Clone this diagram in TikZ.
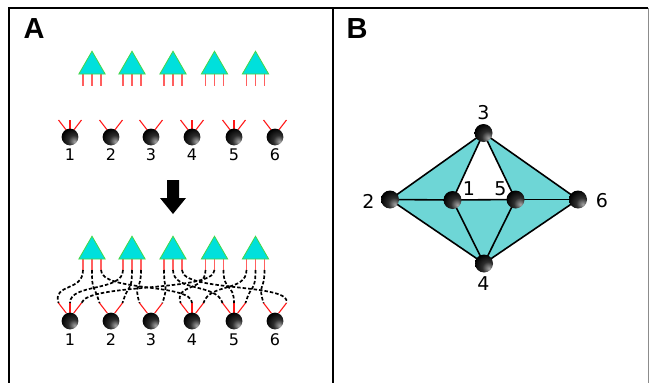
\documentclass[tikz,border=0pt]{standalone}
\usepackage{fontspec}
\setmainfont{DejaVu Sans}
\newfontfamily\labfont{Liberation Sans}
\usetikzlibrary{shapes.geometric}
\definecolor{tricyan}{RGB}{0,224,220}
\definecolor{triedge}{RGB}{70,215,70}
\definecolor{legred}{RGB}{255,95,95}
\definecolor{facecol}{RGB}{110,214,214}
\pgfdeclareradialshading{ballshade}{\pgfpoint{14bp}{-14bp}}{color(0bp)=(black!35); color(16bp)=(black!82); color(34bp)=(black); color(70bp)=(black)}
\begin{document}
\begin{tikzpicture}[x=1pt,y=-1pt,
  ball/.style={circle,minimum size=16.8pt,inner sep=0pt,shading=ballshade},
  bigball/.style={circle,minimum size=18pt,inner sep=0pt,shading=ballshade},
  tri/.style={regular polygon,regular polygon sides=3,minimum size=30.4pt,inner sep=0pt,fill=tricyan,draw=triedge,line width=0.8pt},
  leg/.style={draw=legred,line width=1.5pt},
  rec/.style={draw=red!90!white,line width=1.1pt},
  dashcurve/.style={draw=black,line width=1.7pt,dash pattern=on 3.5pt off 2pt},
  numlab/.style={font=\fontsize{16}{18}\selectfont,inner sep=0pt},
  bnumlab/.style={font=\fontsize{19}{21}\selectfont,inner sep=0pt},
  panellab/.style={font=\labfont\bfseries\fontsize{29}{30}\selectfont,inner sep=0pt},
  edge/.style={draw=black,line width=1.6pt},
  frame/.style={draw=black,line width=1.2pt}]
\useasboundingbox (0,0) rectangle (649,383);
% frame
\draw[frame] (9,384) -- (9,8) -- (648,8);
\draw[draw=black!45,line width=1pt] (648.5,8) -- (648.5,384);
\draw[frame] (333,8) -- (333,384);
\node[panellab] (labA) at (34,29) {A};
\node[panellab] (labB) at (357,28.5) {B};

% ---------- Panel A, top ----------
\foreach \t/\x in {1/92,2/132,3/173,4/214.5,5/255.5} {
  \foreach \k in {1,2,3} { \draw[leg] ({\x+(\k-2)*9},74) -- ({\x+(\k-2)*9},86); }
  \node[tri] (ut\t) at (\x,66.4) {};
}
\foreach \i/\x/\recs in {1/70/{1,2,3},2/111/{1,3},3/151/{1,3},4/192/{1,2,3},5/234/{1,2,3},6/275/{1,3}} {
  \foreach \k in \recs { \draw[rec] ({\x+(\k-2)*11.5},120) -- ({\x+(\k-2)*3.8},130); }
  \node[ball] (ub\i) at (\x,137) {};
  \node[numlab] (ul\i) at (\x,155) {\i};
}

% arrow
\fill[black] (167,180) -- (179,180) -- (179,198) -- (186,198) -- (173,214) -- (160,198) -- (167,198) -- cycle;

% ---------- Panel A, bottom ----------
\foreach \t/\x in {1/92,2/132,3/173,4/214.5,5/255.5} {
  \foreach \k in {1,2,3} {
    \draw[leg] ({\x+(\k-2)*9},259) -- ({\x+(\k-2)*9},270);
    \coordinate (l-\t-\k) at ({\x+(\k-2)*9},270);
  }
  \node[tri] (bt\t) at (\x,251.4) {};
}
\foreach \i/\x/\recs in {1/70/{1,2,3},2/111/{1,3},3/151/{1,3},4/192/{1,2,3},5/234/{1,2,3},6/275/{1,3}} {
  \foreach \k in \recs {
    \draw[rec] ({\x+(\k-2)*11.5},303) -- ({\x+(\k-2)*3.8},313);
    \coordinate (r-\i-\k) at ({\x+(\k-2)*11.5},303);
  }
}
\foreach \t/\k/\b/\r in {1/1/1/1, 1/2/2/1, 1/3/4/2, 2/1/1/2, 2/2/2/3, 2/3/3/1, 3/1/3/3, 3/2/5/1, 3/3/6/3, 4/1/4/1, 4/2/1/3, 4/3/5/2, 5/1/4/3, 5/2/5/3, 5/3/6/1} {
  \draw[dashcurve] (l-\t-\k) .. controls +(0,22) and +({(\r-2)*6},-20) .. (r-\b-\r);
}
\foreach \i/\x in {1/70,2/111,3/151,4/192,5/234,6/275} {
  \node[ball] (lb\i) at (\x,321) {};
  \node[numlab] (ll\i) at (\x,340) {\i};
}

% ---------- Panel B ----------
\coordinate (p3) at (483.5,133);
\coordinate (p2) at (390,199.5);
\coordinate (p1) at (452.5,200);
\coordinate (p5) at (515.5,199.5);
\coordinate (p6) at (578,199.5);
\coordinate (p4) at (484,263.5);
\fill[facecol] (p2) -- (p3) -- (p1) -- cycle;
\fill[facecol] (p3) -- (p5) -- (p6) -- cycle;
\fill[facecol] (p2) -- (p1) -- (p4) -- cycle;
\fill[facecol] (p1) -- (p5) -- (p4) -- cycle;
\fill[facecol] (p5) -- (p6) -- (p4) -- cycle;
\foreach \a/\b in {3/2,3/1,3/5,3/6,2/1,1/5,5/6,2/4,1/4,5/4,6/4} { \draw[edge] (p\a) -- (p\b); }
\foreach \i in {1,...,6} { \node[bigball] (n\i) at (p\i) {}; }
\node[bnumlab] (m3) at (483.5,112.5) {3};
\node[bnumlab] (m2) at (368.5,201) {2};
\node[bnumlab] (m1) at (469,189) {1};
\node[bnumlab] (m5) at (500.5,189) {5};
\node[bnumlab] (m6) at (602,200.5) {6};
\node[bnumlab] (m4) at (483.5,283.5) {4};
\end{tikzpicture}
\end{document}
